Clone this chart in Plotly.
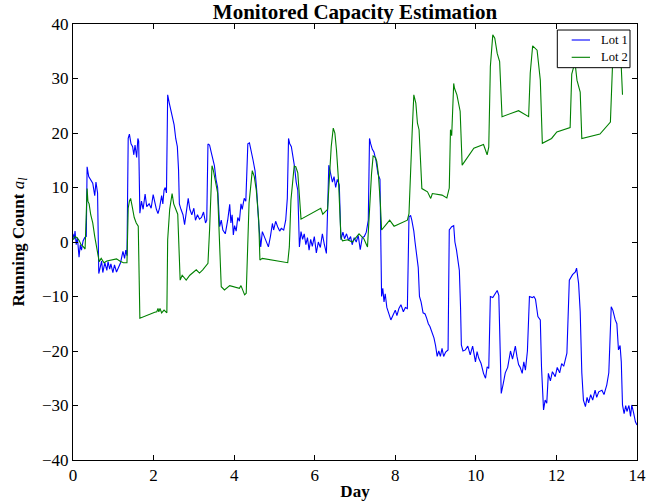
import plotly.graph_objects as go

# Lot 1 (blue)
lot1_day = [0.00, 0.03, 0.05, 0.08, 0.11, 0.15, 0.18, 0.21, 0.25, 0.29, 0.33, 0.35, 0.39, 0.44, 0.49, 0.54, 0.57, 0.61,
            0.64, 0.68, 0.71, 0.74, 0.79, 0.84, 0.87, 0.91, 0.94, 0.99, 1.03, 1.08, 1.13, 1.18, 1.24, 1.28, 1.31, 1.34,
            1.37, 1.40, 1.44, 1.48, 1.51, 1.54, 1.58, 1.61, 1.63, 1.66, 1.70, 1.74, 1.79, 1.83, 1.89, 1.94, 1.99, 2.03,
            2.07, 2.11, 2.15, 2.20, 2.23, 2.26, 2.29, 2.32, 2.35, 2.39, 2.43, 2.47, 2.51, 2.55, 2.59, 2.62, 2.64, 2.68,
            2.73, 2.77, 2.81, 2.86, 2.90, 2.95, 3.00, 3.04, 3.09, 3.14, 3.19, 3.24, 3.29, 3.32, 3.35, 3.39, 3.43, 3.47,
            3.51, 3.55, 3.59, 3.64, 3.68, 3.72, 3.78, 3.84, 3.89, 3.92, 3.95, 3.98, 4.01, 4.05, 4.09, 4.13, 4.17, 4.20,
            4.25, 4.29, 4.34, 4.38, 4.42, 4.47, 4.52, 4.56, 4.61, 4.64, 4.66, 4.70, 4.75, 4.80, 4.85, 4.90, 4.95, 4.98,
            5.03, 5.08, 5.13, 5.17, 5.23, 5.28, 5.32, 5.35, 5.38, 5.42, 5.46, 5.50, 5.54, 5.58, 5.62, 5.66, 5.70, 5.74,
            5.78, 5.82, 5.86, 5.90, 5.94, 5.99, 6.04, 6.09, 6.14, 6.19, 6.24, 6.29, 6.35, 6.39, 6.44, 6.48, 6.52, 6.56,
            6.61, 6.65, 6.70, 6.74, 6.79, 6.84, 6.89, 6.93, 6.98, 7.03, 7.08, 7.13, 7.18, 7.23, 7.28, 7.33, 7.36, 7.39,
            7.43, 7.47, 7.52, 7.57, 7.62, 7.66, 7.69, 7.72, 7.75, 7.79, 7.84, 7.89, 7.94, 8.00, 8.04, 8.09, 8.14, 8.20,
            8.25, 8.30, 8.34, 8.38, 8.41, 8.46, 8.49, 8.53, 8.57, 8.60, 8.64, 8.69, 8.74, 8.78, 8.82, 8.86, 8.91, 8.96,
            9.00, 9.04, 9.08, 9.12, 9.16, 9.20, 9.25, 9.31, 9.34, 9.40, 9.45, 9.48, 9.52, 9.55, 9.59, 9.62, 9.64, 9.68,
            9.74, 9.80, 9.86, 9.92, 9.99, 10.03, 10.07, 10.13, 10.19, 10.24, 10.28, 10.32, 10.36, 10.42, 10.47, 10.53,
            10.57, 10.60, 10.63, 10.68, 10.73, 10.79, 10.86, 10.91, 10.98, 11.02, 11.06, 11.10, 11.15, 11.19, 11.23,
            11.28, 11.33, 11.40, 11.44, 11.48, 11.54, 11.60, 11.63, 11.68, 11.72, 11.76, 11.80, 11.85, 11.90, 11.97,
            12.02, 12.08, 12.13, 12.18, 12.22, 12.26, 12.32, 12.40, 12.47, 12.50, 12.55, 12.59, 12.63, 12.67, 12.72,
            12.76, 12.80, 12.85, 12.90, 12.96, 13.00, 13.05, 13.13, 13.18, 13.25, 13.30, 13.36, 13.40, 13.46, 13.50,
            13.54, 13.58, 13.61, 13.64, 13.68, 13.72, 13.75, 13.80, 13.84, 13.87, 13.92, 13.96, 14.00]
lot1_val = [1.5, 0.5, 2.0, -0.5, 0.8, -2.8, -0.5, -1.5, 0.2, 0.8, 1.0, 13.8, 12.0, 11.5, 10.8, 8.5, 11.0, 9.0,
            -5.8, -4.5, -3.5, -5.6, -3.8, -5.2, -3.6, -5.0, -4.0, -5.6, -4.2, -5.5, -4.5, -3.8, -1.7, -3.0, -1.5, -2.5,
            19.0, 19.8, 18.0, 17.5, 16.0, 17.8, 15.5, 19.0, 18.5, 5.3, 7.5, 6.0, 8.8, 6.5, 7.0, 6.2, 8.7, 7.0,
            6.0, 5.2, 6.3, 8.5, 7.0, 9.5, 10.0, 9.0, 27.0, 25.5, 24.0, 22.5, 21.5, 19.0, 17.5, 13.2, 7.0, 6.0,
            5.0, 3.2, 5.5, 8.0, 6.0, 5.0, 6.2, 4.0, 5.0, 4.2, 4.5, 5.5, 3.5, 4.0, 18.0, 17.8, 16.5, 15.0,
            14.0, 11.5, 10.0, 2.8, 4.0, 2.2, 1.5, 4.0, 6.9, 3.5, 5.0, 1.3, 3.0, 2.0, 4.5, 3.8, 7.0, 6.0,
            8.0, 7.5, 18.0, 18.2, 17.0, 15.0, 13.0, 9.5, 3.4, 0.5, -0.9, 1.9, 1.0, 0.0, -0.9, 1.0, 3.4, 2.2,
            3.8, 2.8, 2.0, 2.5, 2.2, 4.0, 8.0, 19.0, 18.0, 17.5, 16.0, 13.8, 11.0, 9.5, -0.9, 1.9, 0.5, 1.5,
            -0.5, 0.8, -1.5, 0.5, -0.8, 1.0, -2.0, 0.0, -1.0, 1.5, -0.5, -2.1, 14.1, 12.6, 11.0, 12.0, 10.0, 11.5,
            10.5, 0.4, 1.8, 0.6, 1.5, 0.3, 1.0, -0.5, 0.8, 0.0, 1.2, -1.4, 0.8, 1.0, 1.8, 4.0, 19.0, 18.0,
            17.0, 16.5, 15.0, 12.5, 11.5, -10.0, -8.5, -11.0, -9.5, -12.0, -13.0, -14.3, -13.5, -12.5, -13.5, -12.2, -11.5, -12.8,
            -12.0, -12.2, 4.6, 4.9, 4.0, 2.0, 0.0, -2.0, -4.7, -10.0, -11.0, -13.0, -13.2, -14.0, -15.0, -15.5, -16.5, -17.6,
            -19.0, -21.0, -20.0, -21.0, -19.5, -21.0, -20.2, -19.8, 2.2, 2.8, 3.0, 0.0, -1.5, -3.0, -5.2, -12.0, -18.9, -20.0,
            -19.8, -19.1, -20.7, -19.1, -22.0, -20.1, -21.3, -22.3, -24.1, -25.0, -22.9, -23.2, -10.0, -10.2, -9.5, -8.9,
            -9.8, -18.0, -27.8, -26.0, -24.0, -23.0, -20.0, -21.5, -19.1, -21.0, -22.5, -23.0, -24.1, -22.0, -23.5,
            -20.0, -10.0, -10.2, -10.0, -10.5, -13.7, -14.3, -23.0, -30.8, -29.0, -29.6, -24.1, -25.5, -23.8, -24.7,
            -23.0, -24.0, -22.3, -22.8, -21.5, -20.4, -7.0, -6.0, -5.5, -4.8, -7.6, -12.8, -24.0, -29.0, -30.2,
            -28.5, -29.5, -28.0, -29.0, -27.2, -28.5, -27.5, -27.2, -28.0, -26.2, -24.0, -11.9, -12.5, -14.3, -15.0,
            -19.8, -19.0, -22.0, -29.9, -31.5, -30.0, -31.1, -30.0, -32.0, -29.9, -31.5, -33.0, -33.6]

# Lot 2 (green)
lot2_day = [0.00, 0.05, 0.10, 0.15, 0.20, 0.25, 0.30, 0.33, 0.35, 0.37, 0.40, 0.44, 0.49, 0.54, 0.60, 0.65, 0.70,
            0.77, 0.84, 0.93, 1.00, 1.08, 1.16, 1.25, 1.34, 1.37, 1.40, 1.43, 1.47, 1.52, 1.57, 1.62, 1.66, 1.78,
            1.90, 2.03, 2.08, 2.11, 2.13, 2.16, 2.20, 2.26, 2.33, 2.35, 2.40, 2.46, 2.50, 2.55, 2.60, 2.66, 2.71,
            2.81, 2.90, 3.06, 3.14, 3.22, 3.35, 3.39, 3.45, 3.48, 3.55, 3.59, 3.68, 3.76, 3.89, 4.01, 4.13, 4.17,
            4.26, 4.30, 4.37, 4.45, 4.50, 4.55, 4.61, 4.64, 4.70, 5.33, 5.37, 5.41, 5.49, 5.53, 5.58, 5.66, 6.15,
            6.20, 6.32, 6.36, 6.41, 6.46, 6.50, 6.54, 6.59, 6.65, 6.69, 6.82, 6.93, 7.10, 7.22, 7.31, 7.36, 7.41,
            7.45, 7.51, 7.54, 7.58, 7.63, 7.66, 7.76, 7.86, 7.97, 8.30, 8.34, 8.38, 8.42, 8.46, 8.51, 8.55, 8.59,
            8.63, 8.66, 8.80, 8.88, 8.92, 9.16, 9.28, 9.34, 9.37, 9.40, 9.45, 9.47, 9.53, 9.58, 9.61, 9.66, 9.95,
            10.19, 10.28, 10.32, 10.36, 10.42, 10.47, 10.53, 10.59, 10.65, 11.06, 11.31, 11.35, 11.41, 11.47, 11.52,
            11.60, 11.65, 11.88, 12.01, 12.34, 12.38, 12.46, 12.51, 12.59, 12.63, 13.08, 13.34, 13.39, 13.46, 13.55,
            13.61, 13.64]
lot2_val = [0.4, 1.0, 0.8, 0.3, -0.5, -0.8, -1.3, 6.2, 9.8, 7.5, 7.0, 5.0, 3.5, 1.0, -2.0, -3.6, -3.0,
            -3.8, -3.5, -3.4, -3.3, -3.1, -3.5, -3.8, -3.8, 6.2, 7.5, 8.0, 6.5, 4.5, 3.5, 2.9, -14.0, -13.6,
            -13.3, -12.9, -12.8, -12.2, -12.8, -12.2, -13.0, -12.5, -13.0, 0.4, 6.0, 8.9, 7.0, 6.0, 5.1, -7.0, -6.1,
            -7.0, -6.1, -5.1, -5.7, -5.1, -3.9, 2.2, 14.0, 13.3, 10.1, 9.0, -8.2, -8.8, -8.0, -8.3, -8.5, -8.0,
            -9.7, -9.4, 7.1, 13.1, 12.0, 9.5, 4.0, -3.3, -3.0, -3.8, -0.9, 7.7, 13.9, 13.8, 12.7, 4.2, 6.2,
            5.1, 6.0, 11.2, 17.5, 20.9, 20.0, 16.9, 11.4, 0.9, 0.2, 0.4, 0.0, 1.5, 0.6, -0.9, 6.4, 12.5,
            15.8, 15.5, 14.8, 12.5, 7.0, 2.2, 3.1, 4.0, 2.9, 4.0, 5.2, 14.1, 20.4, 27.0, 25.5, 21.8, 20.6,
            14.4, 9.8, 9.2, 8.0, 8.9, 8.6, 8.1, 9.9, 20.6, 19.5, 29.1, 28.2, 27.0, 24.8, 24.0, 14.1, 17.2,
            17.9, 16.0, 17.4, 32.2, 38.0, 37.4, 34.6, 33.1, 23.0, 24.1, 23.0, 31.0, 36.0, 35.5, 35.2,
            29.7, 18.1, 19.0, 20.2, 21.0, 30.8, 33.0, 29.7, 27.5, 19.0, 19.8, 22.0, 32.0, 37.5, 37.0,
            32.0, 27.0]

series_names = ["Lot 1", "Lot 2"]
series_colors = ["#0000ff", "#008000"]

x_ticks = [0, 2, 4, 6, 8, 10, 12, 14]
y_ticks = [-40, -30, -20, -10, 0, 10, 20, 30, 40]

FONT = "Liberation Serif, Times New Roman, serif"

fig = go.Figure()
for name, color, xs, ys in zip(series_names, series_colors, [lot1_day, lot2_day], [lot1_val, lot2_val]):
    fig.add_trace(go.Scatter(x=xs, y=ys, mode="lines", name=name, showlegend=False,
                             line=dict(color=color, width=1.1)))

axis_common = dict(showline=True, linecolor="black", linewidth=1, mirror="ticks",
                   ticks="inside", ticklen=5, tickcolor="black", tickwidth=1,
                   showgrid=False, zeroline=False, automargin=False,
                   tickfont=dict(family=FONT, size=17, color="black"))

fig.update_xaxes(range=[0, 14], tickvals=x_ticks, ticktext=[str(v) for v in x_ticks],
                 title=dict(text="<b>Day</b>", font=dict(family=FONT, size=17, color="black"), standoff=2),
                 **axis_common)
fig.update_yaxes(range=[-40, 40], tickvals=y_ticks,
                 ticktext=[("\u2212" + str(-v)) if v < 0 else str(v) for v in y_ticks],
                 title=dict(text="<b>Running Count</b> <i>a<sub>l</sub></i>",
                            font=dict(family=FONT, size=17, color="black"), standoff=13),
                 **axis_common)

# Legend box drawn in paper coordinates (matplotlib-style compact legend)
shapes = [dict(type="rect", xref="paper", yref="paper", x0=0.8587, x1=0.9876, y0=0.8998, y1=0.9862,
               line=dict(color="black", width=1), fillcolor="white", layer="above")]
annotations = []
row_y = [0.9633, 0.9236]
for name, color, ry in zip(series_names, series_colors, row_y):
    shapes.append(dict(type="line", xref="paper", yref="paper", x0=0.8842, x1=0.9167, y0=ry, y1=ry,
                       line=dict(color=color, width=1.1), layer="above"))
    annotations.append(dict(text=name, xref="paper", yref="paper", x=0.9332, y=ry,
                            xanchor="left", yanchor="middle", showarrow=False,
                            font=dict(family=FONT, size=12.5, color="black")))

fig.update_layout(
    width=660, height=501,
    margin=dict(l=73, r=23, t=24, b=41),
    paper_bgcolor="white", plot_bgcolor="white",
    title=dict(text="<b>Monitored Capacity Estimation</b>", x=0.5, xref="paper", xanchor="center",
               y=1 - 12 / 501, yref="container", yanchor="middle",
               font=dict(family=FONT, size=21, color="black")),
    shapes=shapes,
    annotations=annotations,
    showlegend=False,
)

fig.write_html("out.html", config={"displayModeBar": False},
               post_script="document.body.style.margin='0px';document.body.style.overflow='hidden';")
